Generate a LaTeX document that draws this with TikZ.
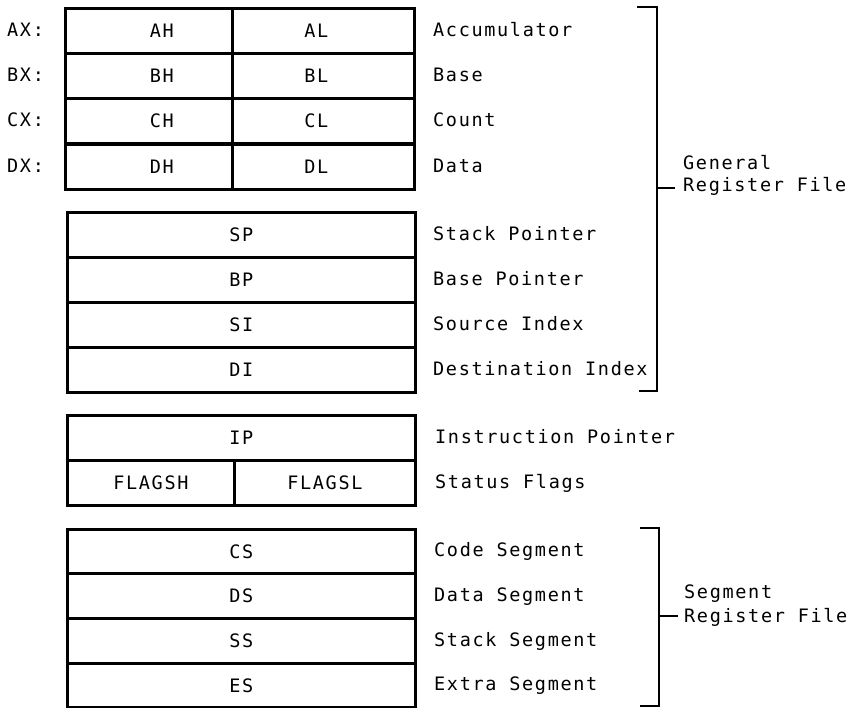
\documentclass[tikz,border=0pt]{standalone}
\usepackage{fontspec}
\newfontfamily\regfont[LetterSpace=9]{DejaVu Sans Mono}
\begin{document}
\begin{tikzpicture}[x=1pt,y=-1pt,
  cell/.style={draw, line width=2.8pt, anchor=north west, inner sep=0pt,
    minimum height=45pt, font=\regfont\fontsize{18.5}{22}\selectfont},
  halfA/.style={cell, minimum width=167pt},
  halfB/.style={cell, minimum width=182pt},
  full/.style={cell, minimum width=348pt},
  txt/.style={anchor=base west, inner sep=0pt, font=\regfont\fontsize{18.5}{22}\selectfont},
  brk/.style={line width=2.8pt}]
\useasboundingbox (0,0) rectangle (859,707);

% general register pairs
\node[halfA] (ah) at (64,7)   {\hspace*{26pt}AH};
\node[halfB] (al) at (231,7)  {AL\hspace*{14pt}};
\node[halfA] (bh) at (64,52)  {\hspace*{26pt}BH};
\node[halfB] (bl) at (231,52) {BL\hspace*{14pt}};
\node[halfA] (ch) at (64,97)  {\hspace*{26pt}CH};
\node[halfB] (cl) at (231,97) {CL\hspace*{14pt}};
\node[halfA] (dh) at (64,143) {\hspace*{26pt}DH};
\node[halfB] (dl) at (231,143){DL\hspace*{14pt}};

\node[txt] (ax) at (7,36)  {AX:};
\node[txt] (bx) at (7,81)  {BX:};
\node[txt] (cx) at (7,126.5)   {CX:};
\node[txt] (dx) at (7,172) {DX:};

% pointer / index
\node[full] (sp) at (66,211) {SP};
\node[full] (bp) at (66,256) {BP};
\node[full] (si) at (66,301) {SI};
\node[full] (di) at (66,346) {DI};

% IP and flags
\node[full] (ip) at (66,414) {IP};
\node[cell, minimum width=167pt] (fh) at (66,459) {FLAGSH};
\node[cell, minimum width=181pt] (fl) at (233,459) {FLAGSL};

% segment registers
\node[full, minimum height=44pt] (cs) at (66,528) {CS};
\node[full] (ds) at (66,572) {DS};
\node[full] (ss) at (66,617) {SS};
\node[full, minimum height=44pt] (es) at (66,662) {ES};

% descriptions
\node[txt] (tacc) at (433,36)  {Accumulator};
\node[txt] (tbas) at (433,81)  {Base};
\node[txt] (tcnt) at (433,126.5)   {Count};
\node[txt] (tdat) at (433,172) {Data};
\node[txt] (tsp)  at (433,240) {Stack Pointer};
\node[txt] (tbp)  at (433,285) {Base Pointer};
\node[txt] (tsi)  at (433,330) {Source Index};
\node[txt] (tdi)  at (433,375) {Destination Index};
\node[txt] (tip)  at (435,443) {Instruction Pointer};
\node[txt] (tfl)  at (435,488) {Status Flags};
\node[txt] (tcs)  at (434,556.5)   {Code Segment};
\node[txt] (tds)  at (434,601) {Data Segment};
\node[txt] (tss)  at (434,646) {Stack Segment};
\node[txt] (tes)  at (434,690.5)   {Extra Segment};

% general register file bracket
\coordinate (g1) at (637,7);
\coordinate (g2) at (657,7);
\coordinate (g3) at (657,391);
\coordinate (g4) at (639,391);
\coordinate (gm) at (657,188);
\coordinate (ge) at (675,188);
\draw[brk] (g1) -- (g2) -- (g3) -- (g4);
\draw[brk] (gm) -- (ge);
\node[txt] (gen1) at (683,169.5) {General};
\node[txt] (gen2) at (683,191.5) {Register File};

% segment register file bracket
\coordinate (s1) at (640,528);
\coordinate (s2) at (659,528);
\coordinate (s3) at (659,706);
\coordinate (s4) at (640,706);
\coordinate (sm) at (659,616);
\coordinate (se) at (678,616);
\draw[brk] (s1) -- (s2) -- (s3) -- (s4);
\draw[brk] (sm) -- (se);
\node[txt] (seg1) at (684,598.5) {Segment};
\node[txt] (seg2) at (684,622) {Register File};
\end{tikzpicture}
\end{document}
